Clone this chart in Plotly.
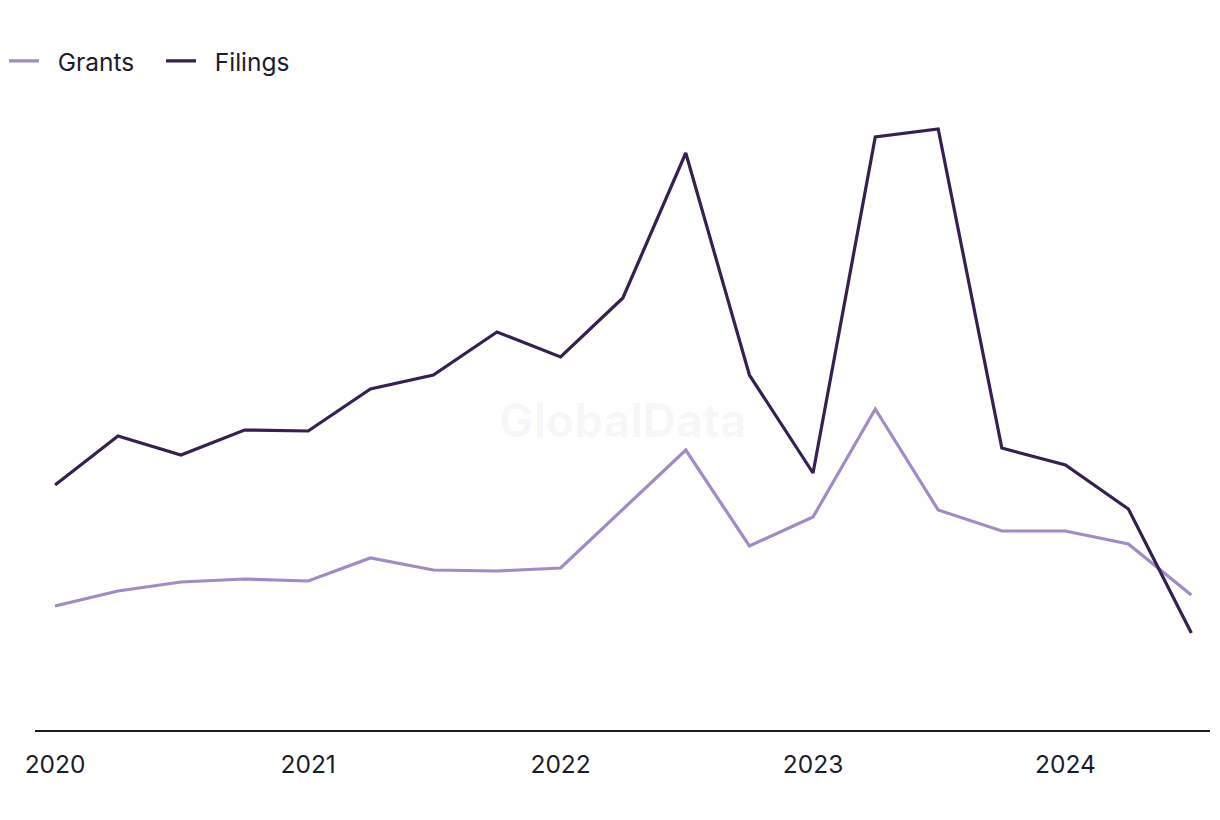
import plotly.graph_objects as go

quarters = ["2020-01-01", "2020-04-01", "2020-07-01", "2020-10-01",
            "2021-01-01", "2021-04-01", "2021-07-01", "2021-10-01",
            "2022-01-01", "2022-04-01", "2022-07-01", "2022-10-01",
            "2023-01-01", "2023-04-01", "2023-07-01", "2023-10-01",
            "2024-01-01", "2024-04-01", "2024-07-01"]

filings = [245, 294, 275, 300, 299, 341, 355, 398, 373, 432, 577, 355,
           257, 593, 601, 282, 265, 221, 97]
grants = [124, 139, 148, 151, 149, 172, 160, 159, 162, 221, 280, 184,
          213, 321, 220, 199, 199, 186, 135]

tick_vals = ["2020-01-01", "2021-01-01", "2022-01-01", "2023-01-01", "2024-01-01"]
tick_text = ["2020", "2021", "2022", "2023", "2024"]

font_family = "Inter, 'Open Sans', sans-serif"
text_color = "#1c1b2b"
pad = "\u00a0\u00a0"

fig = go.Figure()
fig.add_trace(go.Scatter(x=quarters, y=grants, name=pad + "Grants", mode="lines",
                         line=dict(color="#a08bc6", width=3.2)))
fig.add_trace(go.Scatter(x=quarters, y=filings, name=pad + "Filings", mode="lines",
                         line=dict(color="#35204f", width=3.2)))

fig.update_layout(
    width=1220, height=820,
    paper_bgcolor="white", plot_bgcolor="white",
    margin=dict(l=27, r=18, t=102, b=98, autoexpand=False),
    font=dict(family=font_family, size=24.5, color=text_color),
    showlegend=True,
    legend=dict(orientation="h", x=-0.0264, y=1.079, xanchor="left", yanchor="middle",
                font=dict(size=24.5, color=text_color),
                entrywidth=112, entrywidthmode="pixels",
                traceorder="normal", bgcolor="rgba(0,0,0,0)"),
    xaxis=dict(type="date", range=["2019-12-03", "2024-07-28"],
               tickvals=tick_vals, ticktext=tick_text, showgrid=False,
               showline=True, linecolor="#1c1b2b", linewidth=2,
               ticks="", zeroline=False, tickfont=dict(size=24.5, color=text_color),
               ticklabelstandoff=12),
    yaxis=dict(range=[0, 620], visible=False, showgrid=False, zeroline=False),
    annotations=[dict(text="<b>GlobalData</b>", x=0.5, y=0.5, xref="paper", yref="paper",
                      showarrow=False, font=dict(size=46, color="rgba(0,0,0,0.035)",
                                                 family="Inter, sans-serif"))],
)

fig.write_html("out.html")
